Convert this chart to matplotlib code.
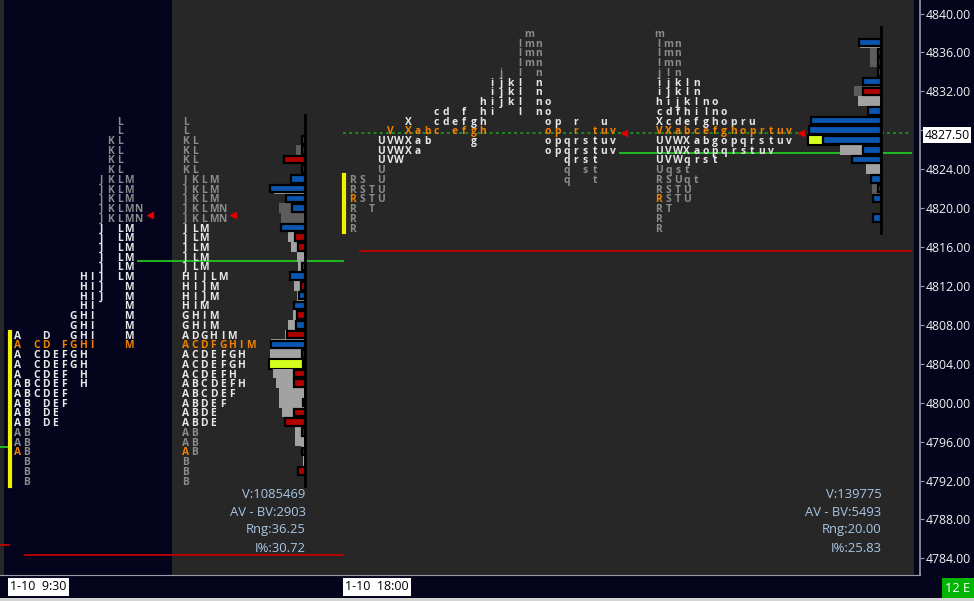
import matplotlib
matplotlib.use("Agg")
import matplotlib.pyplot as plt
from matplotlib.patches import Rectangle
from matplotlib.transforms import blended_transform_factory
import numpy as np

# ------------------------------------------------------------------ data
# Session 1 (day session, 9:30)
s1_periods = "ABCDEFGHIJKLMN"
s1_top = 4829                      # price of first row, rows step down by 1.0
s1_rows = ["L", "L", "KL", "KL", "KL", "KL", "JKLM", "JKLM", "JKLM", "JKLMN",
           "JKLMN", "JLM", "JLM", "JLM", "JLM", "JLM", "HIJLM", "HIJM", "HIJM",
           "HIM", "GHIM", "GHIM", "ADGHIM", "ACDFGHIM", "ACDEFGH", "ACDEFGH",
           "ACDEFH", "ABCDEFH", "ABCDEF", "ABDEF", "ABDE", "ABDE", "AB", "AB",
           "AB", "B", "B", "B"]
s1_vol = [0, 0, 3, 8, 20, 3, 14, 30, 19, 25, 23, 24, 16, 13, 7, 6, 15, 10, 7,
          11, 11, 16, 19, 33, 34, 35, 31, 28, 25, 25, 22, 18, 9, 9, 3, 1, 7, 0]
s1_delta = [0, 0, 3, -3, -21, -3, 14, 35, 19, 13, 0, 24, -10, -7, 0, 3, 15, -4,
            6, 11, -8, 9, -18, 34, -3, 2, -11, -11, 0, 2, -11, -20, -3, 0, -3,
            0, -7, 0]
s1_dark_vol = [4826, 4820, 4819]
s1_va = (4798, 4818)
s1_poc = 4806
s1_vpoc = 4804
s1_open = 4795
s1_ib = (4792, 4807)
s1_close = 4819.25
s1_green = 4814.55
s1_red = 4784.35
s1_stats = ["V:1085469", "AV - BV:2903", "Rng:36.25", "I%:30.72"]

# Session 2 (overnight session, 18:00)
s2_periods = "RSTUVWXabcdefghijklmnopqrstuv"
s2_top = 4838
s2_rows = ["m", "lmn", "lmn", "lmn", "jln", "ijkln", "ijkln", "hijklno",
           "cdfhilno", "Xcdefghopru", "VXabcefghoprtuv", "UVWXabgopqrstuv",
           "UVWXaopqrstuv", "UVWqrst", "Uqst", "RSUqt", "RSTU", "RSTU", "RT",
           "R", "R"]
s2_vol = [0, 20, 10, 10, 3, 15, 26, 22, 12, 66, 70, 72, 40, 25, 14, 8, 8, 6,
          0, 5, 0]
s2_delta = [0, 22, -3, -3, 3, 18, -18, 0, 13, 70, 72, 58, 18, 29, 0, 10, 3, 8,
            0, 8, 0]
s2_dark_vol = [4836, 4835, 4832, 4822]
s2_va = (4825, 4833)
s2_poc = 4828
s2_vpoc = 4827
s2_open = 4821
s2_ib = (4818, 4823)
s2_green = 4825.65
s2_red = 4815.6
s2_stats = ["V:139775", "AV - BV:5493", "Rng:20.00", "I%:25.83"]

last_price = 4827.50
left_edge_green = 4795.45
left_edge_red = 4785.4

y_ticks = np.arange(4784, 4841, 4)
time_labels = ["1-10  9:30", "1-10  18:00"]
time_label_x = [8, 343]

# ------------------------------------------------------------------ style / layout
NAVY = "#04041c"
PANEL = "#272727"
WHITE_L = "#e8e8e8"
GRAY_L = "#8c8c8c"
ORANGE = "#f08200"
BLUE = "#0a56b0"
RED = "#b00000"
VOL_L = "#a2a2a2"
VOL_D = "#5c5c5c"
YEL = "#d4ff1c"
STAT = "#a9c6e6"

W, H = 974, 601
PX_PER_PT = 9.73
Y13 = 13.5                         # pixel row of 4840
P_TOP = 4840 + Y13 / PX_PER_PT
P_BOT = 4840 - (575 - Y13) / PX_PER_PT

COL_W = 9.3
S1_SPLIT_X0, S1_COND_X0, S1_ANCHOR = 17.7, 185.5, 303.5
S2_SPLIT_X0, S2_COND_X0, S2_ANCHOR = 352.7, 659.0, 879.5

plt.rcParams["font.family"] = ["Open Sans", "DejaVu Sans"]

fig = plt.figure(figsize=(W / 100, H / 100), dpi=100, facecolor=NAVY)
ax = fig.add_axes([0, 26 / H, 920 / W, 575 / H])
ax.set_facecolor(NAVY)
ax.set_xlim(0, 920)
ax.set_ylim(P_BOT, P_TOP)
ax.axvspan(0, 4, color=PANEL, lw=0, zorder=0)
ax.axvspan(172, 914, color=PANEL, lw=0, zorder=0)

LET_FS = 7.4


def letter_color(p, ch, periods, va, poc, open_p):
    if p == poc:
        return ORANGE
    if p == open_p and ch == periods[0]:
        return ORANGE
    if va[0] <= p <= va[1]:
        return WHITE_L
    return GRAY_L


def draw_session(rows, periods, top, split_x0, cond_x0, anchor, vol, delta,
                 dark, va, poc, vpoc, open_p):
    prices = np.array([top - i for i in range(len(rows))], dtype=float)
    for p, row in zip(prices, rows):
        for j, ch in enumerate(row):
            c = letter_color(p, ch, periods, va, poc, open_p)
            i = periods.index(ch)
            for x in (split_x0 + i * COL_W, cond_x0 + j * COL_W):
                ax.text(x, p, ch, color=c, fontsize=LET_FS, fontweight="bold",
                        ha="center", va="center_baseline", zorder=3)
    vol = np.array(vol, dtype=float)
    delta = np.array(delta, dtype=float)
    vcols = [YEL if p == vpoc else (VOL_D if p in dark else VOL_L) for p in prices]
    vecs = ["black" if p == vpoc else "none" for p in prices]
    m = vol > 0
    ax.barh(prices[m], vol[m], left=anchor - vol[m], height=1.0,
            color=[c for c, k in zip(vcols, m) if k],
            edgecolor=[c for c, k in zip(vecs, m) if k], linewidth=1.5, zorder=2)
    m = delta != 0
    d = np.abs(delta[m])
    ax.barh(prices[m], d, left=anchor + 1 - d, height=0.78,
            color=[BLUE if v > 0 else RED for v in delta[m]],
            edgecolor="black", linewidth=1.6, zorder=2.5)
    ax.plot([anchor + 1.2] * 2, [prices[-1] - 0.55, prices[0] + 0.6],
            color="black", lw=2, zorder=2.6)


draw_session(s1_rows, s1_periods, s1_top, S1_SPLIT_X0, S1_COND_X0, S1_ANCHOR,
             s1_vol, s1_delta, s1_dark_vol, s1_va, s1_poc, s1_vpoc, s1_open)
draw_session(s2_rows, s2_periods, s2_top, S2_SPLIT_X0, S2_COND_X0, S2_ANCHOR,
             s2_vol, s2_delta, s2_dark_vol, s2_va, s2_poc, s2_vpoc, s2_open)

# initial balance bars
ax.plot([10, 10], [s1_ib[0] - 0.6, s1_ib[1] + 0.3], color="#f0f000", lw=3, zorder=3)
ax.plot([344, 344], [s2_ib[0] - 0.5, s2_ib[1] + 0.4], color="#f0f000", lw=3, zorder=3)

# reference lines
ax.plot([138, 343], [s1_green] * 2, color="#1ec81e", lw=1.3, zorder=1.5)
ax.plot([25, 343], [s1_red] * 2, color="#c00000", lw=1.3, zorder=1.5)
ax.plot([0, 9], [left_edge_red] * 2, color="#c00000", lw=1.3, zorder=1.5)
ax.plot([0, 8], [left_edge_green] * 2, color="#1ec81e", lw=1.3, zorder=1.5)
ax.plot([620, 911], [s2_green] * 2, color="#1ec81e", lw=1.3, zorder=1.5)
ax.plot([360, 911], [s2_red] * 2, color="#c00000", lw=1.3, zorder=1.5)
ax.plot([343, 911], [last_price + 0.2] * 2, color="#1ea01e", lw=1.1,
        ls=(0, (2, 2)), zorder=1.5)

# close markers
for x in (150, 233):
    ax.plot(x, s1_close, marker="<", color="#e00000", ms=5, zorder=4)
for x in (624, 801):
    ax.plot(x, last_price + 0.2, marker="<", color="#e00000", ms=5, zorder=4)

# session statistics
tr = blended_transform_factory(ax.transData, ax.transAxes)
for anchor, stats in ((S1_ANCHOR, s1_stats), (S2_ANCHOR, s2_stats)):
    for k, s in enumerate(stats):
        ax.text(anchor + 2, 1 - (494 + 18 * k) / 575, s, transform=tr,
                color=STAT, fontsize=9.4, ha="right", va="center")

# axes decoration
for sp in ("top", "left"):
    ax.spines[sp].set_visible(False)
ax.spines["right"].set_color("#9a9aa8")
ax.spines["bottom"].set_color("#9a9aa8")
ax.spines["right"].set_linewidth(1.2)
ax.set_xticks([])
ax.yaxis.tick_right()
ax.set_yticks(y_ticks)
ax.set_yticklabels(["" if abs(v - last_price) < 2 else f"{v:.2f}" for v in y_ticks])
ax.tick_params(axis="y", colors="#9a9aa8", labelcolor="#f2f2f2", length=3,
               pad=1.5, labelsize=8.8)

ax.annotate(f"{last_price:.2f}", xy=(1, last_price), xycoords=("axes fraction", "data"),
            xytext=(3.2, 0), textcoords="offset points", ha="left", va="center",
            fontsize=8.8, color="black",
            bbox=dict(boxstyle="square,pad=0.12", fc="white", ec="none"))

# bottom time strip
for x, lab in zip(time_label_x, time_labels):
    fig.text((x + 2) / W, 1 - 587 / H, lab, fontsize=9, color="black",
             ha="left", va="center",
             bbox=dict(boxstyle="square,pad=0.2", fc="white", ec="none"))

fig.text(958 / W, 1 - 588 / H, "12 E", fontsize=9.2, color="white",
         ha="center", va="center",
         bbox=dict(boxstyle="square,pad=0.3", fc="#00b400", ec="none"))
fig.patches.append(Rectangle((0, 0), 1, 3 / H, transform=fig.transFigure,
                             fc="#d4d4d4", ec="none"))

fig.savefig("out.png", dpi=100, facecolor=NAVY)
